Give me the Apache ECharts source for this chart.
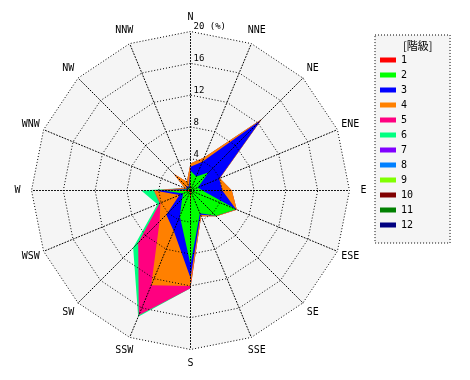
<!DOCTYPE html>
<html><head><meta charset="utf-8">
<script src="https://cdn.jsdelivr.net/npm/echarts@6/dist/echarts.min.js"></script>
<style>html,body{margin:0;padding:0;background:#fff}#c{width:470px;height:380px}</style>
</head><body><div id="c"></div>
<script>
// compass directions (clockwise from N)
const directions = ['N','NNE','NE','ENE','E','ESE','SE','SSE','S','SSW','SW','WSW','W','WNW','NW','NNW'];
const classNames = ['1','2','3','4','5','6','7','8','9','10','11','12'];
const classColors = ['#ff0000','#00ff00','#0000ff','#ff8000','#ff0080','#00ff80','#8000ff','#0080ff','#80ff00','#800000','#008000','#000080'];
const legendTitle = '[階級]';
const axisMax = 20;
const axisStep = 4;
// frequency (%) of each class by direction
const class1  = [2.5,0.1,0.2,0.1,0.2,0.2,0.2,0.2,2.0,0.2,0.2,0.2,3.5,0.2,0.5,0.1];
const class2  = [0.0,1.8,3.0,0.9,1.3,6.0,4.3,2.9,7.3,3.3,1.3,0.8,0.0,0.1,0.1,0.2];
const class3  = [0.5,2.0,9.3,2.9,2.5,0.0,0.0,0.2,1.7,2.0,2.8,0.5,1.0,0.2,0.2,0.2];
const class4  = [0.4,0.6,0.2,0.1,1.2,0.1,0.1,0.2,1.0,7.4,1.2,2.6,0.1,0.3,2.2,0.7];
const class5  = [0,0,0,0,0,0,0,0,0.3,4.1,3.8,0.1,0,0,0,0];
const class6  = [0,0,0,0,0,0,0,0,0,0.2,0.9,0.3,1.6,0,0,0];
const class7  = [0,0,0,0,0,0,0,0,0,0,0,0,0,0,0,0];
const class8  = [0,0,0,0,0,0,0,0,0,0,0,0,0,0,0,0];
const class9  = [0,0,0,0,0,0,0,0,0,0,0,0,0,0,0,0];
const class10 = [0,0,0,0,0,0,0,0,0,0,0,0,0,0,0,0];
const class11 = [0,0,0,0,0,0,0,0,0,0,0,0,0,0,0,0];
const class12 = [0,0,0,0,0,0,0,0,0,0,0,0,0,0,0,0];

const classes = [class1,class2,class3,class4,class5,class6,class7,class8,class9,class10,class11,class12];
// ECharts radar runs counter-clockwise; reorder so the compass runs clockwise
const order = [0].concat(directions.map((d,i)=>i).slice(1).reverse());
const reorder = a => order.map(i => a[i]);
// cumulative stacks
const cum = [];
let run = directions.map(()=>0);
classes.forEach(c => { run = run.map((v,i)=>+(v + c[i]).toFixed(3)); cum.push(run.slice()); });

const CENTER = [190.5, 190.5], RADIUS = 159;
const MONO = 'DejaVu Sans Mono';
const indicatorsBg = order.map((i,k) => {
  const o = {name: directions[i], min: 0, max: axisMax};
  if (k === 0) o.axisLabel = {show: true, color:'#000', fontSize: 9, fontFamily: MONO,
     margin: -3, align: 'left', verticalAlign: 'bottom',
     formatter: v => v === axisMax ? v + ' (%)' : String(v)};
  return o;
});
const indicatorsFg = order.map(i => ({name: directions[i], min: 0, max: axisMax}));
const dotted = {color:'#000', width:1, type:[1,2]};

const data = [];
for (let k = classes.length - 1; k >= 0; k--) {
  const total = classes[k].reduce((a,b)=>a+b,0);
  data.push({
    name: classNames[k],
    value: reorder(cum[k]),
    itemStyle: {color: classColors[k]},
    lineStyle: {width: 0, opacity: 0},
    areaStyle: {color: classColors[k], opacity: total > 0 ? 1 : 0}
  });
}

const chart = echarts.init(document.getElementById('c'), null, {renderer:'canvas'});
chart.setOption({
  animation: false,
  backgroundColor: '#fff',
  title: {text: legendTitle, left: 398, top: 35,
    textStyle: {fontSize: 11, fontWeight: 'normal', color:'#000', fontFamily: 'Noto Sans CJK JP'}},
  legend: {
    orient: 'vertical', left: 375, top: 35,
    data: classNames, selectedMode: false,
    icon: 'rect', itemWidth: 16, itemHeight: 5, itemGap: 1,
    padding: [18, 37, 11, 5],
    backgroundColor: '#f5f5f5', borderColor: '#000', borderWidth: 1, borderType: [1,2],
    textStyle: {color:'#000', fontSize: 10, fontFamily: MONO, lineHeight: 14}
  },
  radar: [
    { center: CENTER, radius: RADIUS, startAngle: 90, shape: 'polygon', splitNumber: axisMax/axisStep,
      indicator: indicatorsBg, z: 0,
      axisName: {show: false},
      axisLine: {show: false}, axisTick: {show: false}, splitLine: {show: false},
      axisLabel: {show: false},
      splitArea: {show: true, areaStyle: {color: ['#f5f5f5']}} },
    { center: CENTER, radius: RADIUS, startAngle: 90, shape: 'polygon', splitNumber: axisMax/axisStep,
      indicator: indicatorsFg, z: 10, nameGap: 14,
      axisName: {color:'#000', fontSize: 10, fontFamily: MONO, align: 'center', verticalAlign: 'middle'},
      axisLine: {lineStyle: dotted}, axisTick: {show: false}, axisLabel: {show: false},
      splitLine: {lineStyle: dotted}, splitArea: {show: false} }
  ],
  series: [{
    type: 'radar', radarIndex: 0, z: 5, symbol: 'none', silent: true,
    emphasis: {disabled: true},
    data: data
  }]
});
</script></body></html>
